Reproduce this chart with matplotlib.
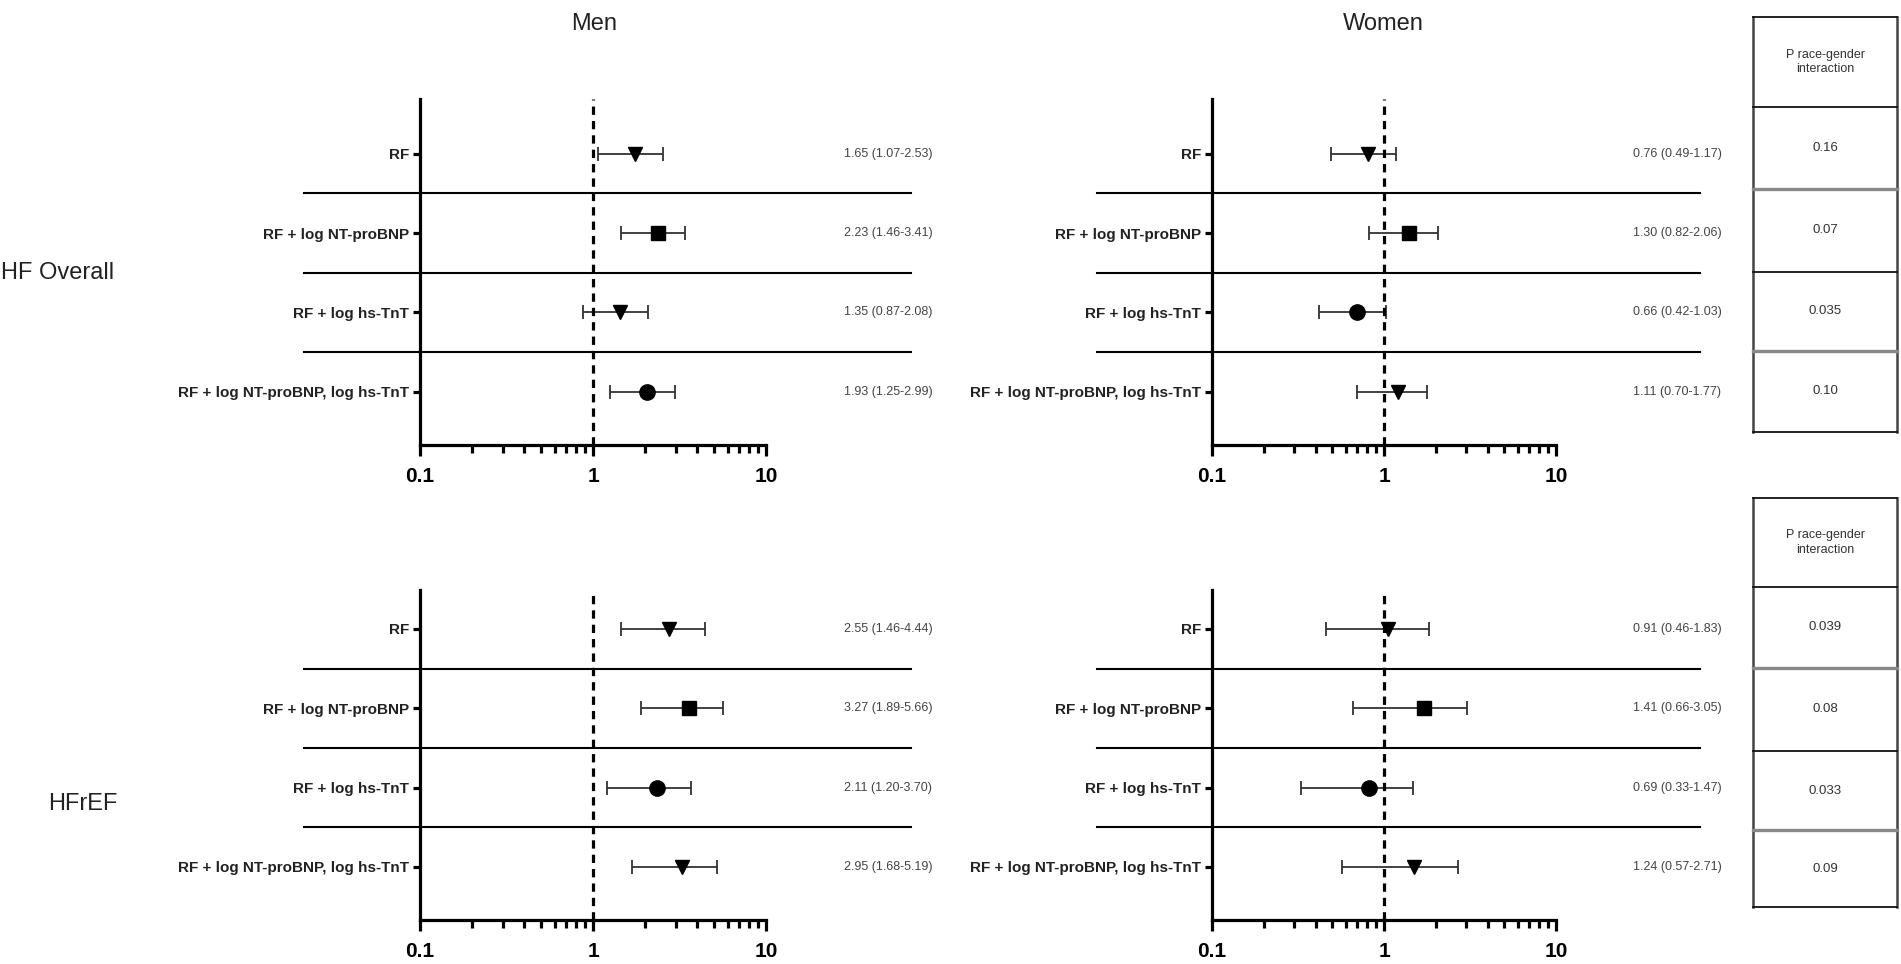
import numpy as np
import matplotlib
matplotlib.use('Agg')
import matplotlib.pyplot as plt
import matplotlib.transforms as mtransforms
from matplotlib.ticker import LogLocator, NullFormatter

plt.rcParams['font.family'] = ['Liberation Sans', 'DejaVu Sans']

# data
models = ['RF', 'RF + log NT-proBNP', 'RF + log hs-TnT', 'RF + log NT-proBNP, log hs-TnT']

men_overall_hr = [1.75, 2.38, 1.43, 2.05]
men_overall_lo = [1.07, 1.46, 0.87, 1.25]
men_overall_hi = [2.53, 3.41, 2.08, 2.99]
men_overall_txt = ['1.65 (1.07-2.53)', '2.23 (1.46-3.41)', '1.35 (0.87-2.08)', '1.93 (1.25-2.99)']
men_overall_mk = ['v', 's', 'v', 'o']

women_overall_hr = [0.81, 1.40, 0.70, 1.21]
women_overall_lo = [0.49, 0.82, 0.42, 0.70]
women_overall_hi = [1.17, 2.06, 1.03, 1.77]
women_overall_txt = ['0.76 (0.49-1.17)', '1.30 (0.82-2.06)', '0.66 (0.42-1.03)', '1.11 (0.70-1.77)']
women_overall_mk = ['v', 's', 'o', 'v']

men_hfref_hr = [2.75, 3.60, 2.35, 3.25]
men_hfref_lo = [1.46, 1.89, 1.20, 1.68]
men_hfref_hi = [4.44, 5.66, 3.70, 5.19]
men_hfref_txt = ['2.55 (1.46-4.44)', '3.27 (1.89-5.66)', '2.11 (1.20-3.70)', '2.95 (1.68-5.19)']
men_hfref_mk = ['v', 's', 'o', 'v']

women_hfref_hr = [1.05, 1.70, 0.82, 1.50]
women_hfref_lo = [0.46, 0.66, 0.33, 0.57]
women_hfref_hi = [1.83, 3.05, 1.47, 2.71]
women_hfref_txt = ['0.91 (0.46-1.83)', '1.41 (0.66-3.05)', '0.69 (0.33-1.47)', '1.24 (0.57-2.71)']
women_hfref_mk = ['v', 's', 'o', 'v']

p_overall = ['0.16', '0.07', '0.035', '0.10']
p_hfref = ['0.039', '0.08', '0.033', '0.09']

W, H = 1901, 964
fig = plt.figure(figsize=(W / 100, H / 100), dpi=100)


def rect(x0, y0, x1, y1):
    return [x0 / W, 1 - y1 / H, (x1 - x0) / W, (y1 - y0) / H]


def forest(box, ytop, hr, lo, hi, txt, mk):
    ax = fig.add_axes(rect(*box))
    ypos = np.arange(len(models), 0, -1)
    ax.set_xscale('log')
    ax.set_xlim(0.1, 10)
    ax.set_ylim(0.33, ytop)
    for y, h, l, u, m in zip(ypos, hr, lo, hi, mk):
        ax.errorbar(h, y, xerr=[[h - l], [u - h]], fmt='none', ecolor='#333333',
                    elinewidth=1.3, capsize=5, capthick=1.3)
        ax.plot(h, y, marker=m, color='black', ms=10 if m != 'o' else 11, ls='none')
    ax.axvline(1, color='black', lw=2.3, ls=(0, (2.6, 1.9)))
    trans = mtransforms.blended_transform_factory(ax.transAxes, ax.transData)
    for ys in [3.5, 2.5, 1.5]:
        ax.plot([-0.335, 1.42], [ys, ys], color='black', lw=1.5, transform=trans, clip_on=False)
    for y, t in zip(ypos, txt):
        ax.text(1.225, y, t, transform=trans, ha='left', va='center', fontsize=9, color='#444444')
    for s in ['top', 'right']:
        ax.spines[s].set_visible(False)
    for s in ['left', 'bottom']:
        ax.spines[s].set_linewidth(2.3)
    ax.set_yticks(ypos)
    ax.set_yticklabels(models, fontsize=11, fontweight='bold', color='#222222')
    ax.tick_params(axis='y', length=5, width=2.3, pad=3)
    ax.xaxis.set_major_locator(LogLocator(base=10))
    ax.xaxis.set_minor_locator(LogLocator(base=10, subs=np.arange(2, 10)))
    ax.xaxis.set_minor_formatter(NullFormatter())
    ax.set_xticks([0.1, 1, 10])
    ax.set_xticklabels(['0.1', '1', '10'], fontsize=15, fontweight='bold')
    ax.tick_params(axis='x', which='major', length=8, width=2.3, pad=8)
    ax.tick_params(axis='x', which='minor', length=6, width=2.3)
    return ax


forest((420, 99, 766, 445), 4.69, men_overall_hr, men_overall_lo, men_overall_hi, men_overall_txt, men_overall_mk)
forest((1212, 99, 1556, 445), 4.69, women_overall_hr, women_overall_lo, women_overall_hi, women_overall_txt, women_overall_mk)
forest((420, 590, 766, 920), 4.49, men_hfref_hr, men_hfref_lo, men_hfref_hi, men_hfref_txt, men_hfref_mk)
forest((1212, 590, 1556, 920), 4.49, women_hfref_hr, women_hfref_lo, women_hfref_hi, women_hfref_txt, women_hfref_mk)

# column titles and group labels
title_font = ['Liberation Sans Narrow', 'Liberation Sans', 'DejaVu Sans']
fig.text(594 / W, 1 - 24 / H, 'Men', ha='center', va='center', fontsize=17, family=title_font, color='#222222')
fig.text(1383 / W, 1 - 24 / H, 'Women', ha='center', va='center', fontsize=17, family=title_font, color='#222222')
fig.text(1 / W, 1 - 273 / H, 'HF Overall', ha='left', va='center', fontsize=17, color='#222222')
fig.text(48 / W, 1 - 804 / H, 'HFrEF', ha='left', va='center', fontsize=17, color='#222222')


# p value tables
def ptable(x0, x1, edges, pvals):
    tax = fig.add_axes(rect(x0, edges[0], x1, edges[-1]))
    tax.set_xlim(0, 1)
    tax.set_ylim(edges[-1], edges[0])
    tax.axis('off')
    tax.plot([0, 0], [edges[0], edges[-1]], color='#444444', lw=1.8, clip_on=False)
    tax.plot([1, 1], [edges[0], edges[-1]], color='#444444', lw=1.8, clip_on=False)
    for i, e in enumerate(edges):
        c, lw = ('#888888', 2.4) if i in (2, 4) else ('#111111', 1.3)
        tax.plot([0, 1], [e, e], color=c, lw=lw, clip_on=False)
    tax.text(0.5, (edges[0] + edges[1]) / 2, 'P race-gender\ninteraction', ha='center', va='center',
             fontsize=9, color='#333333', linespacing=1.3)
    for i, p in enumerate(pvals):
        tax.text(0.5, (edges[i + 1] + edges[i + 2]) / 2, p, ha='center', va='center',
                 fontsize=9.5, color='#333333')


ptable(1753, 1897, [17, 107, 189, 272, 351, 432], p_overall)
ptable(1753, 1897, [498, 587, 668, 751, 830, 907], p_hfref)

fig.savefig('out.png', dpi=100)
